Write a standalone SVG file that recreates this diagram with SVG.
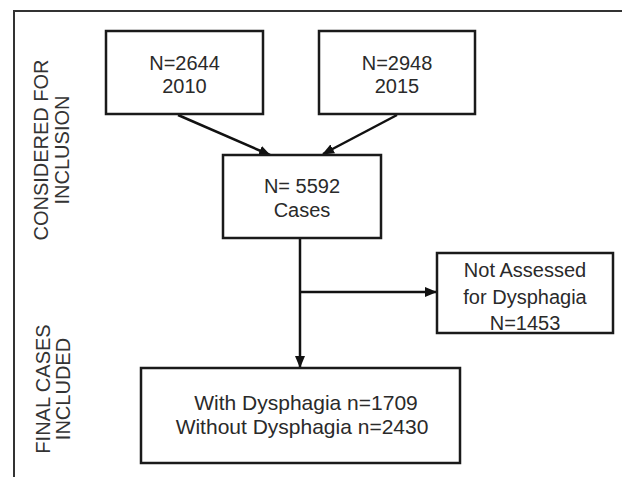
<svg xmlns="http://www.w3.org/2000/svg" width="622" height="477" viewBox="0 0 622 477">
<style>
.box{fill:#fff;stroke:#1a1a1a;stroke-width:2.5}
.t{font-family:"Liberation Sans",Arial,sans-serif;font-size:20px;fill:#2a2a2a;text-anchor:middle}
.lab{font-family:"Liberation Sans",Arial,sans-serif;font-size:20px;fill:#333;text-anchor:middle}
.c{fill:none;stroke:#111;stroke-width:2.5}
</style>
<defs>
<marker id="ah" markerUnits="userSpaceOnUse" markerWidth="12" markerHeight="10" refX="11" refY="5" orient="auto">
<path d="M0,0 L12,5 L0,10 Z" fill="#111"/>
</marker>
</defs>
<rect width="622" height="477" fill="#fff"/>
<path d="M14,477 V11 H622" fill="none" stroke="#333" stroke-width="2"/>
<g id="labels">
<text class="lab" transform="translate(48,150) rotate(-90)">CONSIDERED FOR</text>
<text class="lab" transform="translate(69,150) rotate(-90)">INCLUSION</text>
<text class="lab" transform="translate(50,389) rotate(-90)">FINAL CASES</text>
<text class="lab" transform="translate(70,389) rotate(-90)">INCLUDED</text>
</g>
<g id="connectors">
<line class="c" x1="178" y1="115" x2="270" y2="155" marker-end="url(#ah)"/>
<line class="c" x1="397" y1="115" x2="323" y2="154" marker-end="url(#ah)"/>
<line class="c" x1="300" y1="238" x2="300" y2="367" marker-end="url(#ah)"/>
<line class="c" x1="300" y1="292" x2="436" y2="292" marker-end="url(#ah)"/>
</g>
<g id="n2010">
<rect class="box" x="106" y="31" width="157" height="83"/>
<text class="t" x="184.5" y="70">N=2644</text>
<text class="t" x="184.5" y="93">2010</text>
</g>
<g id="n2015">
<rect class="box" x="319" y="31" width="156" height="83"/>
<text class="t" x="397" y="70">N=2948</text>
<text class="t" x="397" y="93">2015</text>
</g>
<g id="cases">
<rect class="box" x="223" y="155" width="158" height="83"/>
<text class="t" x="302" y="193">N= 5592</text>
<text class="t" x="302" y="217">Cases</text>
</g>
<g id="notassessed">
<rect class="box" x="437" y="253" width="176" height="80"/>
<text class="t" x="525" y="277">Not Assessed</text>
<text class="t" x="525" y="304">for Dysphagia</text>
<text class="t" x="525" y="330">N=1453</text>
</g>
<g id="final">
<rect class="box" x="141" y="368" width="319" height="95"/>
<text class="t" x="306" y="410" style="font-size:21px">With Dysphagia n=1709</text>
<text class="t" x="302" y="434" style="font-size:21px">Without Dysphagia n=2430</text>
</g>
</svg>
